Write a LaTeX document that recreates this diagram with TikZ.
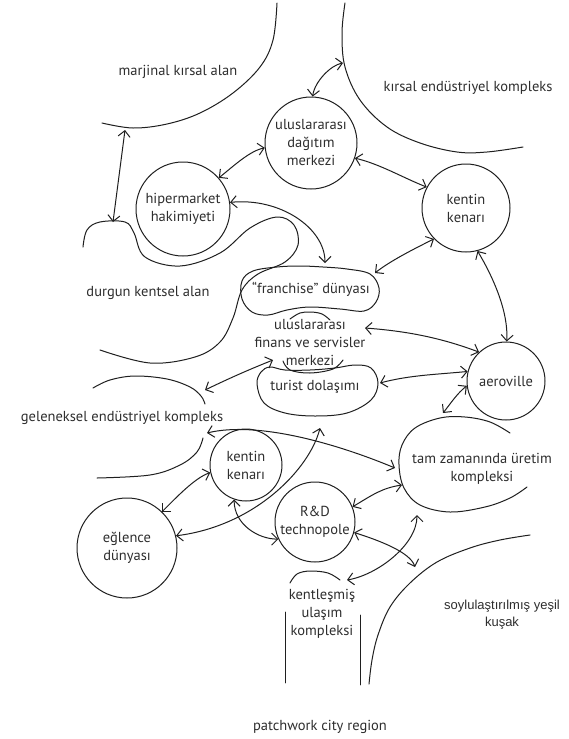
\documentclass[tikz,border=0pt]{standalone}
\usepackage{fontspec}
\setmainfont{PT Sans}
\newfontfamily\arialf{Liberation Sans}
\usetikzlibrary{arrows.meta}
\begin{document}
\begin{tikzpicture}[x=1pt,y=-1pt,
  line width=1pt, color=black!88,
  lbl/.style={font=\fontsize{14.5}{18}\selectfont, align=center, inner sep=0pt, text=black!82},
  ring/.style={draw, circle, inner sep=0pt, align=center, font=\fontsize{14.5}{18}\selectfont, text=black!82},
  link/.style={{Straight Barb[length=6pt,width=12pt]}-{Straight Barb[length=6pt,width=12pt]}},
  outline/.style={line cap=round}
]
\useasboundingbox[fill=white] (0,0) rectangle (569,739);

% circles
\node[ring, minimum size=94pt] (H) at (183,209) {hipermarket\\hakimiyeti};
\node[ring, minimum size=92pt] (D) at (311,143) {uluslararası\\dağıtım\\merkezi};
\node[ring, minimum size=88pt] (K1) at (466,208) {kentin\\kenarı};
\node[ring, minimum size=78pt] (A) at (506,381) {aeroville};
\node[ring, minimum size=72pt] (K2) at (246,465) {kentin\\kenarı};
\node[ring, minimum size=100pt] (E) at (127,548) {eğlence\\dünyası};
\node[ring, minimum size=80pt] (R) at (315,522) {R\&D\\technopole};

% labels
\node[lbl] (mk) at (178,72) {marjinal kırsal alan};
\node[lbl] (ke) at (468,88) {kırsal endüstriyel kompleks};
\node[lbl] (dk) at (148,293) {durgun kentsel alan};
\node[lbl] (fd) at (311,289) {“franchise” dünyası};
\node[lbl] (F) at (310,343) {uluslararası\\finans ve servisler\\merkezi};
\node[lbl] (tu) at (315,387) {turist dolaşımı};
\node[lbl] (ge) at (122,418) {geleneksel endüstriyel kompleks};
\node[lbl] (T) at (482,469) {tam zamanında üretim\\kompleksi};
\node[lbl] (ku) at (322,614) {kentleşmiş\\ulaşım\\kompleksi};
\node[lbl, font=\arialf\fontsize{13}{17}\selectfont] (sy) at (502,615) {soylulaştırılmış yeşil\\kuşak};
\node[lbl] (pc) at (320,727) {patchwork city region};

% region outlines
\draw[outline] plot[smooth, tension=0.6] coordinates {(277,3) (273,40) (260,67) (233,93) (200,113) (167,124) (133,128) (102,123)};
\draw[outline] plot[smooth, tension=0.6] coordinates {(345,3) (342,33) (345,67) (360,100) (387,127) (420,143) (457,152) (487,152) (523,147)};
\draw[outline] plot[smooth, tension=0.6] coordinates {(83,247) (87,230) (100,222) (125,222) (134,233) (145,257) (180,266) (220,253) (250,228) (277,217) (294,225) (298,245) (285,262) (258,274) (242,290) (233,318) (220,342) (195,357) (150,363) (100,350)};
\draw[outline] plot[smooth cycle, tension=0.6] coordinates {(242,281) (253,271) (277,267) (300,266) (323,267) (347,269) (370,274) (379,288) (376,302) (364,311) (340,309) (310,307) (287,310) (268,315) (252,312) (242,299)};
\draw[outline] plot[smooth, tension=0.6] coordinates {(290,319) (300,313) (311,312) (322,314) (330,320)};
\draw[outline] plot[smooth, tension=0.6] coordinates {(283,361) (290,370) (310,373) (333,369) (343,360)};
\draw[outline] plot[smooth cycle, tension=0.6] coordinates {(257,384) (261,372) (270,367) (285,370) (310,370) (335,368) (355,365) (371,368) (378,383) (371,400) (347,413) (315,416) (285,413) (264,403)};
\draw[outline] plot[smooth, tension=0.6] coordinates {(93,388) (110,380) (135,376) (167,379) (190,387) (201,396) (205,404)};
\draw[outline] plot[smooth, tension=0.6] coordinates {(97,478) (150,475) (180,465) (197,452) (203,438)};
\draw[outline] plot[smooth, tension=0.6] coordinates {(510,433) (490,422) (465,417) (440,418) (415,428) (402,445) (399,465) (404,488) (420,505) (450,512) (485,507) (510,498) (527,487)};
\draw[outline] plot[smooth, tension=0.6] coordinates {(530,535) (500,540) (470,548) (437,562) (410,583) (390,607) (378,635) (372,660) (369,684)};
\draw[outline] plot[smooth, tension=0.6] coordinates {(290,583) (297,574) (310,571) (328,573) (340,580)};
\draw[outline, line width=0.9pt] (285,612) -- (285,683);
\draw[outline, line width=0.9pt] (360,615) -- (360,685);

% attachment points
\coordinate (m1) at (125,130);
\coordinate (d1) at (113,222);
\coordinate (k1) at (343,63);
\coordinate (f1) at (375,273);
\coordinate (f2) at (325,263);
\coordinate (fin1) at (365,328);
\coordinate (fin2) at (273,360);
\coordinate (t1) at (380,383);
\coordinate (t2) at (320,428);
\coordinate (g1) at (205,390);
\coordinate (g2) at (207,433);
\coordinate (tz0) at (443,413);
\coordinate (tz1) at (395,468);
\coordinate (tz2) at (402,485);
\coordinate (tz3) at (417,515);
\coordinate (s1) at (415,567);
\coordinate (ku1) at (347,580);

% connectors
\draw[link] (m1) -- (d1);
\draw[link] (H.41) .. controls +(15,-12) and +(-15,3) .. (D.186);
\draw[link] (D.88) .. controls +(2,-15) and +(-12,2) .. (k1);
\draw[link] (D.-19) .. controls +(25,6) and +(-25,-10) .. (K1.152);
\draw[link] (K1.224) .. controls +(-20,10) and +(15,-12) .. (f1);
\draw[link] (K1.-75) .. controls +(15,25) and +(2,-30) .. (A.89);
\draw[link] (H.8) .. controls +(50,-5) and +(0,-35) .. (f2);
\draw[link] (fin1) .. controls +(40,3) and +(-40,-15) .. (A.133);
\draw[link] (t1) .. controls +(30,-8) and +(-30,3) .. (A.166);
\draw[link] (A.187) .. controls +(-10,8) and +(8,-10) .. (tz0);
\draw[link] (fin2) .. controls +(-25,10) and +(25,-12) .. (g1);
\draw[link] (g2) .. controls +(50,-12) and +(-60,-25) .. (tz1);
\draw[link] (E.46) .. controls +(15,-15) and +(-15,5) .. (K2.192);
\draw[link] (E.14) .. controls +(80,-10) and +(-10,40) .. (t2);
\draw[link] (K2.251) .. controls +(0,25) and +(-20,0) .. (R.205);
\draw[link] (R.22) .. controls +(20,-12) and +(-20,3) .. (tz2);
\draw[link] (R.-15) .. controls +(25,8) and +(-5,-15) .. (s1);
\draw[link] (ku1) .. controls +(30,-5) and +(0,30) .. (tz3);
\end{tikzpicture}
\end{document}
